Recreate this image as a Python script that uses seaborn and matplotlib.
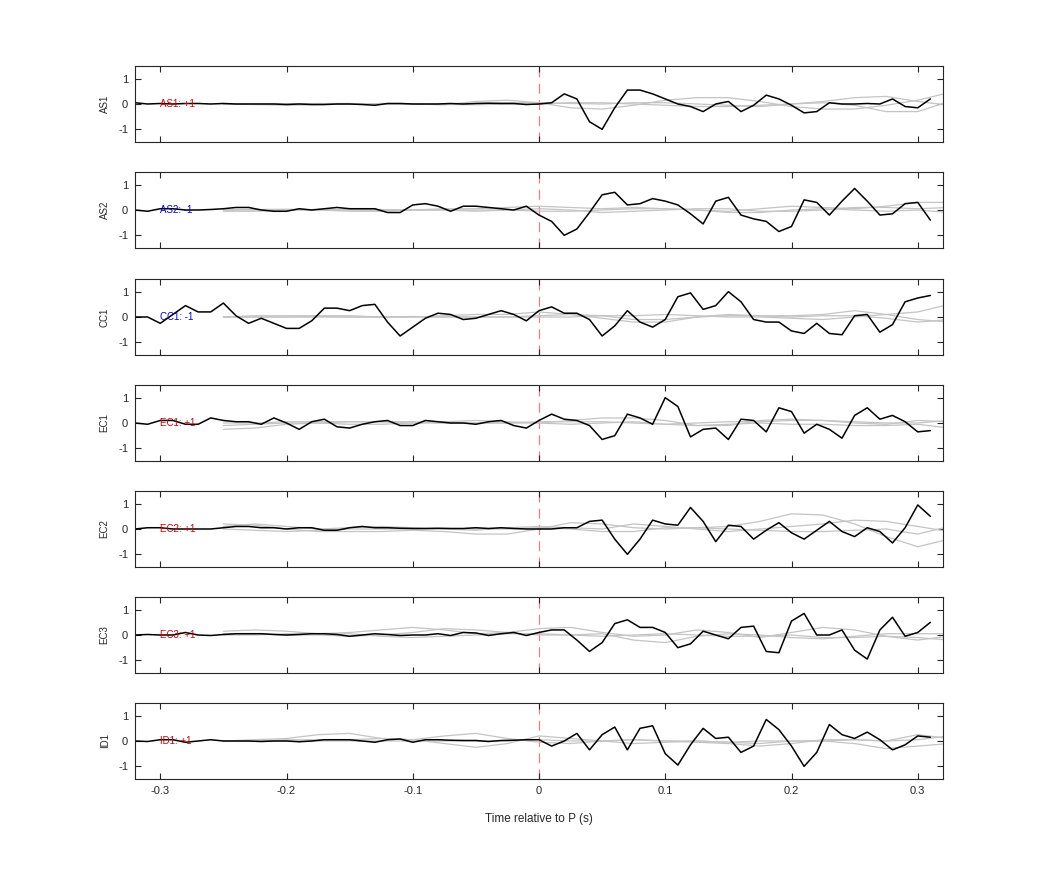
import numpy as np
import pandas as pd
import matplotlib
matplotlib.use("Agg")
import matplotlib.pyplot as plt
import seaborn as sns

channels = ["AS1", "AS2", "CC1", "EC1", "EC2", "EC3", "ID1"]
polarity = ["+1", "-1", "-1", "+1", "+1", "+1", "+1"]
label_colors = ["#d40000", "#0000d0", "#0000d0", "#d40000", "#d40000", "#d40000", "#d40000"]

t_black = np.round(np.arange(-0.32, 0.315, 0.01), 2)
t_gray = [-0.25, -0.225, -0.2, -0.175, -0.15, -0.125, -0.1, -0.075, -0.05, -0.025, 0.0, 0.025,
          0.05, 0.075, 0.1, 0.125, 0.15, 0.175, 0.2, 0.225, 0.25, 0.275, 0.3, 0.325]

AS1 = [0.05, 0.0, 0.02, 0.0, 0.02, 0.02, 0.0, 0.02, 0.0, 0.0, 0.0, 0.0, -0.02, 0.0, -0.02, -0.02, 0.0, 0.0, -0.02, -0.05, 0.02, 0.02, 0.0, 0.0, 0.0, 0.02, 0.0, 0.02, 0.03, 0.02, 0.02, -0.02,
       0.0, 0.05, 0.4, 0.2, -0.7, -1.0, -0.15, 0.55, 0.55, 0.4, 0.2, 0.0, -0.1, -0.3, 0.0, 0.1,
       -0.3, -0.05, 0.35, 0.2, -0.05, -0.35, -0.3, 0.05, 0.0, 0.0, 0.02, 0.0, 0.2, -0.1, -0.15, 0.2]
AS2 = [0.0, -0.05, 0.05, 0.05, 0.0, 0.0, 0.02, 0.05, 0.1, 0.1, 0.0, -0.05, -0.05, 0.05, 0.0, 0.05, 0.1, 0.05, 0.05, 0.05, -0.1, -0.1, 0.2, 0.25, 0.15, -0.05, 0.15, 0.15, 0.1, 0.05, 0.0, 0.15,
       -0.2, -0.45, -1.0, -0.75, -0.1, 0.6, 0.7, 0.2, 0.25, 0.45, 0.35, 0.2, -0.15, -0.55, 0.35, 0.5,
       -0.2, -0.35, -0.45, -0.85, -0.65, 0.4, 0.3, -0.2, 0.35, 0.85, 0.35, -0.2, -0.15, 0.25, 0.3, -0.4]
CC1 = [0.0, 0.0, -0.25, 0.1, 0.45, 0.2, 0.2, 0.55, 0.05, -0.25, -0.05, -0.25, -0.45, -0.45, -0.15, 0.35,
       0.35, 0.25, 0.45, 0.5, -0.2, -0.75, -0.4, -0.05, 0.15, 0.1, -0.1, -0.05, 0.1, 0.25, 0.1, -0.15,
       0.25, 0.4, 0.15, 0.15, -0.1, -0.75, -0.35, 0.25, -0.2, -0.4, -0.1, 0.8, 0.95, 0.3, 0.45, 1.0,
       0.6, -0.1, -0.2, -0.2, -0.55, -0.65, -0.25, -0.65, -0.7, 0.05, 0.1, -0.6, -0.3, 0.6, 0.75, 0.85]
EC1 = [0.0, -0.05, 0.1, 0.1, -0.05, -0.05, 0.2, 0.1, 0.05, 0.05, -0.05, 0.2, 0.0, -0.25, 0.05, 0.15,
       -0.15, -0.2, -0.05, 0.05, 0.1, -0.1, -0.1, 0.1, 0.05, 0.0, 0.0, -0.05, 0.05, 0.1, -0.1, -0.2,
       0.1, 0.35, 0.15, 0.1, -0.1, -0.65, -0.5, 0.35, 0.2, -0.05, 1.0, 0.65, -0.55, -0.25, -0.2, -0.65,
       0.15, 0.1, -0.35, 0.6, 0.45, -0.4, -0.05, -0.25, -0.6, 0.3, 0.6, 0.15, 0.3, 0.05, -0.35, -0.3]
EC2 = [0.0, 0.05, 0.05, 0.0, 0.0, 0.0, 0.0, 0.05, 0.1, 0.1, 0.05, 0.05, 0.0, 0.05, 0.05, -0.05,
       -0.05, 0.05, 0.1, 0.05, 0.05, 0.03, 0.02, 0.02, 0.03, 0.02, 0.02, 0.05, 0.02, 0.05, 0.02, 0.0,
       0.0, 0.0, 0.05, 0.05, 0.3, 0.35, -0.4, -1.0, -0.4, 0.35, 0.2, 0.15, 0.85, 0.3, -0.5, 0.15,
       0.1, -0.4, -0.05, 0.25, -0.15, -0.4, -0.05, 0.3, -0.1, -0.3, 0.05, -0.1, -0.55, 0.05, 0.95, 0.5]
EC3 = [0.0, 0.02, 0.0, 0.0, 0.1, 0.0, -0.02, 0.02, 0.05, 0.05, 0.05, 0.02, 0.0, 0.02, 0.05, 0.05,
       0.02, -0.05, 0.0, 0.05, 0.02, -0.02, 0.0, 0.0, 0.05, -0.02, 0.1, 0.08, -0.02, 0.05, 0.1, -0.02,
       0.1, 0.2, 0.2, -0.2, -0.65, -0.3, 0.45, 0.6, 0.3, 0.3, 0.1, -0.5, -0.35, 0.15, 0.0, -0.15,
       0.3, 0.35, -0.65, -0.7, 0.55, 0.85, 0.0, 0.0, 0.2, -0.6, -0.95, 0.2, 0.7, -0.05, 0.1, 0.5]
ID1 = [0.0, -0.02, 0.05, 0.05, -0.05, 0.0, 0.05, 0.0, 0.0, 0.0, -0.02, 0.0, 0.0, -0.03, 0.0, 0.05,
       0.05, 0.05, 0.0, -0.05, 0.05, 0.08, -0.05, 0.05, 0.05, 0.03, 0.02, 0.02, -0.02, 0.02, 0.03, 0.05,
       0.05, -0.2, 0.0, 0.3, -0.35, 0.25, 0.55, -0.35, 0.5, 0.6, -0.5, -0.95, -0.15, 0.5, 0.1, 0.15,
       -0.45, -0.2, 0.85, 0.45, -0.2, -1.0, -0.45, 0.65, 0.25, 0.1, 0.35, 0.05, -0.35, -0.15, 0.2, 0.15]
black_series = [AS1, AS2, CC1, EC1, EC2, EC3, ID1]

gray_series = [
    [[0, -0.02, -0.05, -0.03, 0, 0.02, 0, -0.03, 0.1, 0.15, 0.05, -0.15, -0.2, -0.05, 0.15, 0.25, 0.25, 0.1, -0.1, -0.2, -0.2, -0.05, 0.15, 0.45],
     [0, 0, 0, 0.02, 0.02, 0, 0, 0, 0.02, 0.05, 0.05, 0.02, 0, 0.05, 0.05, 0, -0.05, -0.1, 0, 0.1, 0.25, 0.3, 0.1, -0.05],
     [0, 0, 0, 0, 0, 0, 0, -0.02, -0.03, 0, 0, 0.05, 0.05, 0, -0.05, -0.1, -0.1, -0.05, 0, 0.05, -0.05, -0.3, -0.3, 0.1]],
    [[0, 0.02, 0.03, 0, -0.05, -0.05, 0, 0.05, 0.05, 0.1, 0.15, 0.1, 0.05, 0.1, 0.05, 0, -0.05, 0.05, 0.15, 0.1, 0.05, 0.15, 0.3, 0.3],
     [-0.05, -0.05, 0, 0.02, 0, -0.02, 0, 0, -0.05, 0, 0.05, 0, -0.1, -0.05, 0, 0.05, 0.05, -0.05, -0.05, 0, 0.1, 0.1, 0.05, 0.1],
     [0, 0, 0, 0, 0.02, 0.02, 0, 0, 0, 0, -0.05, -0.05, 0, 0.05, 0.05, 0, -0.1, -0.1, 0, 0.05, 0, -0.05, 0, -0.1]],
    [[0, 0.05, 0.05, 0.05, 0.05, 0, 0, 0.05, 0.1, 0.1, 0.2, 0.1, -0.05, -0.2, -0.2, 0, 0.1, 0.05, 0.05, 0.1, 0.25, 0.1, -0.1, -0.2],
     [0, 0, 0, 0.02, 0, 0, 0.02, 0, 0, 0, 0.05, 0.1, 0.05, 0.05, 0.1, 0.05, 0, 0, -0.05, -0.1, 0, 0.1, 0.2, 0.5],
     [0, 0, 0, 0, 0, 0, 0, 0, 0, 0, 0, 0, 0.05, -0.1, -0.1, 0, 0.05, 0.05, 0, 0.05, 0.05, -0.05, -0.2, -0.1]],
    [[-0.25, -0.2, -0.05, 0, 0.05, 0.05, 0, 0.05, 0.1, 0.05, 0, 0.1, 0.2, 0.2, 0.1, -0.1, -0.1, 0.1, 0.15, 0.1, 0, -0.05, 0.1, 0.05],
     [0, 0, 0.05, 0.05, 0.05, 0.05, 0.05, 0, 0, 0, 0.05, 0.05, 0.05, 0, -0.05, 0, 0.05, 0.05, 0.1, 0.1, 0.05, 0, 0, 0.1],
     [-0.1, -0.05, 0, 0, -0.05, -0.05, 0, 0, 0, 0, 0, -0.05, 0, 0.05, -0.05, -0.1, -0.05, 0, -0.05, -0.05, -0.1, -0.1, -0.05, -0.2]],
    [[0.2, 0.15, 0, -0.1, -0.1, -0.1, -0.05, -0.1, -0.2, -0.2, 0, 0.25, 0.2, 0.05, 0, 0.05, 0.1, 0.3, 0.6, 0.55, 0.2, -0.3, -0.7, -0.4],
     [0.1, 0.2, 0.1, 0, 0.05, 0.1, 0.05, 0, -0.05, 0.05, 0.1, 0.05, 0, 0.2, 0.1, 0, -0.1, 0, 0.1, 0.2, 0.35, 0.3, 0.1, -0.1],
     [0, -0.05, -0.1, -0.05, 0, 0, 0, 0, 0, 0, 0.05, 0, -0.1, -0.1, 0.05, 0.05, 0, -0.05, -0.1, -0.1, -0.05, 0, -0.2, 0.1]],
    [[0.15, 0.2, 0.15, 0.05, 0.1, 0.2, 0.3, 0.2, 0.05, 0.1, 0.25, 0.3, 0.1, -0.05, 0, 0.2, 0.1, -0.1, 0.1, 0.3, 0.2, -0.05, -0.1, -0.2],
     [0.05, 0.05, 0, 0, -0.05, 0, 0.1, 0.25, 0.2, 0.1, 0, 0, 0.05, -0.2, -0.3, -0.05, 0.05, 0, -0.1, -0.15, -0.05, 0.05, 0.05, 0.05],
     [0, 0, 0.05, 0.05, 0.05, -0.05, -0.1, -0.05, 0, 0.05, 0.05, 0, -0.05, 0, 0.05, 0, -0.05, -0.05, 0, -0.1, -0.1, -0.05, -0.2, -0.05]],
    [[0, 0.05, 0.1, 0.25, 0.3, 0.1, 0.05, 0.2, 0.3, 0.1, -0.05, -0.1, 0, 0.05, 0, -0.05, -0.1, -0.2, -0.1, 0.05, 0.05, 0, 0.05, 0.2],
     [0, 0, 0.05, 0.05, 0.05, 0.1, 0.05, -0.1, -0.25, -0.1, 0.2, 0.1, 0, -0.1, -0.05, 0, -0.05, -0.1, 0, 0, 0.05, 0, 0.25, 0.1],
     [0, -0.02, 0, 0, 0, 0, 0, 0, 0, 0, 0.05, 0, 0, 0.05, 0, 0, -0.05, 0, 0, 0, -0.1, -0.3, -0.2, -0.1]],
]

sns.set_style("ticks")
plt.rcParams["font.family"] = ["Liberation Sans", "DejaVu Sans"]
plt.rcParams["axes.unicode_minus"] = False

fig = plt.figure(figsize=(10.42, 8.75), dpi=100)
W, H = 1042, 875
tops = [66, 172, 279, 385, 491, 597, 703]
ph = 76
for k, ch in enumerate(channels):
    ax = fig.add_axes([135 / W, 1 - (tops[k] + ph) / H, (943 - 135) / W, ph / H])
    for g in gray_series[k]:
        sns.lineplot(x=t_gray, y=g, ax=ax, color="#c4c4c4", linewidth=0.9)
    sns.lineplot(x=t_black, y=black_series[k], ax=ax, color="black", linewidth=1.1)
    ax.axvline(0, color="#f08080", linestyle=(0, (8, 5)), linewidth=0.9, zorder=0.5)
    ax.text(-0.3, 0, f"{ch}: {polarity[k]}", color=label_colors[k], fontsize=7, va="center", ha="left")
    ax.set_xlim(-0.32, 0.32)
    ax.set_ylim(-1.5, 1.5)
    ax.set_yticks([-1, 0, 1])
    ax.set_xticks([-0.3, -0.2, -0.1, 0, 0.1, 0.2, 0.3])
    ax.tick_params(direction="in", top=True, right=True, labelsize=8, length=4, width=0.8, pad=5)
    ax.set_ylabel(ch, fontsize=7, labelpad=6)
    for s in ax.spines.values():
        s.set_linewidth(0.8)
    if k < len(channels) - 1:
        ax.set_xticklabels([])
    else:
        ax.set_xticklabels(["-0.3", "-0.2", "-0.1", "0", "0.1", "0.2", "0.3"])
        ax.set_xlabel("Time relative to P (s)", fontsize=8.5, labelpad=12)

fig.savefig("out.png", dpi=100)
